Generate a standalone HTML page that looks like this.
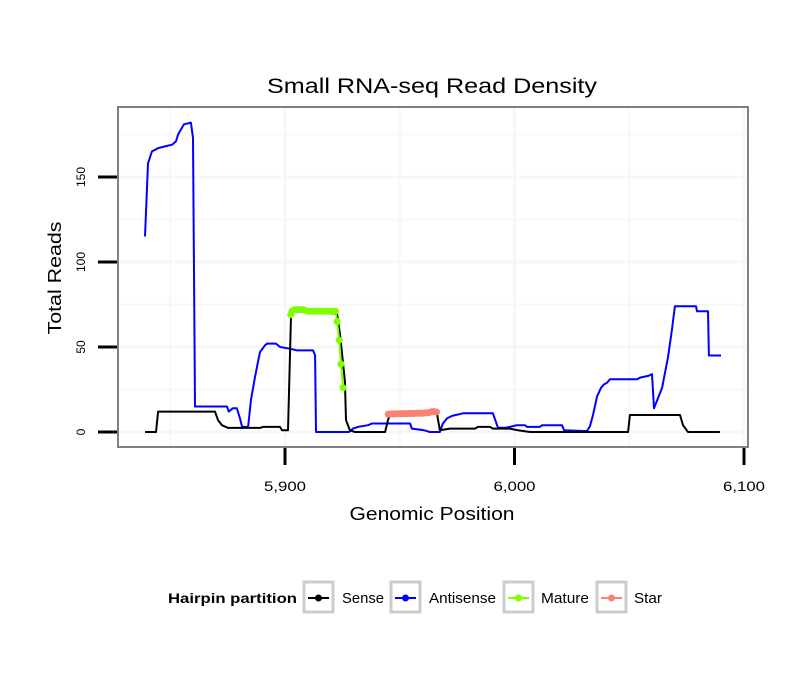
<!DOCTYPE html>
<html><head><meta charset="utf-8"><style>
body{margin:0;background:#fff}
svg{display:block;font-family:"Liberation Sans",sans-serif}
</style></head><body>
<svg id="chart" width="810" height="690">
<text x="432" y="93" text-anchor="middle" font-size="21" textLength="330" lengthAdjust="spacingAndGlyphs">Small RNA-seq Read Density</text>
<g id="grid"></g>
<g id="series"></g>
<rect x="118" y="107" width="630" height="340" fill="none" stroke="#808080" stroke-width="2"/>
<g id="axes"></g>
<text x="432" y="520" text-anchor="middle" font-size="18" textLength="165" lengthAdjust="spacingAndGlyphs">Genomic Position</text>
<text transform="translate(61,278) rotate(-90)" text-anchor="middle" font-size="18" textLength="113" lengthAdjust="spacingAndGlyphs">Total Reads</text>
<g>
<text x="168" y="603" font-size="14" font-weight="bold" textLength="129" lengthAdjust="spacingAndGlyphs">Hairpin partition</text>
<g><rect x="304" y="582" width="29" height="30" fill="#fff" stroke="#ccc" stroke-width="3"/><line x1="308" y1="598" x2="329" y2="598" stroke="#000" stroke-width="2"/><circle cx="318.5" cy="598" r="3.5" fill="#000"/><text x="342" y="603" font-size="15" textLength="42" lengthAdjust="spacingAndGlyphs">Sense</text></g>
<g><rect x="391" y="582" width="29" height="30" fill="#fff" stroke="#ccc" stroke-width="3"/><line x1="395" y1="598" x2="416" y2="598" stroke="#00f" stroke-width="2"/><circle cx="405.5" cy="598" r="3.5" fill="#00f"/><text x="429" y="603" font-size="15" textLength="67" lengthAdjust="spacingAndGlyphs">Antisense</text></g>
<g><rect x="504" y="582" width="29" height="30" fill="#fff" stroke="#ccc" stroke-width="3"/><line x1="508" y1="598" x2="529" y2="598" stroke="#7fff00" stroke-width="2"/><circle cx="518.5" cy="598" r="3.5" fill="#7fff00"/><text x="541" y="603" font-size="15" textLength="48" lengthAdjust="spacingAndGlyphs">Mature</text></g>
<g><rect x="597" y="582" width="29" height="30" fill="#fff" stroke="#ccc" stroke-width="3"/><line x1="601" y1="598" x2="622" y2="598" stroke="#fa8072" stroke-width="2"/><circle cx="611.5" cy="598" r="3.5" fill="#fa8072"/><text x="634" y="603" font-size="15" textLength="28" lengthAdjust="spacingAndGlyphs">Star</text></g>
</g>
</svg>
<script>
const xTicks=[5900,6000,6100];
const xTickLabels=["5,900","6,000","6,100"];
const xMinor=[5850,5950,6050];
const yTicks=[0,50,100,150];
const yMinor=[25,75,125,175];
const antiPos=[5839,5840.3,5842,5844.7,5847.7,5850.8,5852.5,5853.4,5854.7,5856,5859,5859.9,5860.8,5874.7,5875.5,5877.3,5879,5880.4,5881.3,5883.9,5885.2,5886.9,5888.2,5889.1,5891.3,5892.2,5896.1,5897.8,5902.2,5905.2,5912.2,5913.1,5913.5,5927.9,5929.6,5931.8,5936.2,5937.9,5954.5,5955.3,5960.6,5963.2,5967.5,5968.8,5970.6,5972.8,5977.6,5990.6,5991.9,5992.8,5995.9,5998,6001,6004.6,6005.4,6011.1,6012,6020.7,6021.6,6031.6,6032.9,6034.2,6036,6037.7,6039,6040.3,6041.6,6053.4,6054.7,6058.2,6059.9,6060.8,6064.3,6066.9,6068.6,6069.9,6079.1,6079.5,6084.3,6084.7,6090];
const antiVal=[115,158,165,167,168,169,171,175,178,181,182,173,15,15,12,14,14,8,3,3,19,32,41,47,51,52,52,50,49,48,48,45,0,0,2,3,4,5,5,2,1,0,0,5,8,9.5,11,11,6,2.5,2.5,3,4,4,3,3,4,4,1,0.5,3.5,10,21,26,28,29,31,31,32,33,34,14,26,44,60,74,74,71,71,45,45];
const sensePos=[5839,5843.8,5844.7,5869.5,5870.8,5872.5,5875.2,5889.1,5890.4,5897.8,5898.7,5901.3,5902.6,5903.5,5906.5,5915.3,5922.7,5924,5926.1,5926.6,5928.3,5930.5,5943.6,5944.9,5945.8,5966.2,5967.5,5969.7,5971.9,5982.8,5984.1,5989.3,5990.6,5998,6001.5,6006.8,6049.5,6050.3,6072.1,6073.4,6075.6,6089.5];
const senseVal=[0,0,12,12,7,4,2.4,2.4,3,3,1,1,68,70.5,71,70,69.5,57,30,7,1,0,0,7,10.5,11,1,1.5,2,2,3,3,2,2,1,0,0,10,10,4,0,0];
const maturePos=[5902.5,5903,5904,5905,5906,5907,5908,5909,5910,5911,5912,5913,5914,5915,5916,5917,5918,5919,5920,5921,5922,5922.7,5923.6,5924.4,5925.3];
const matureVal=[69,71,72,72,72,72,72,71.5,71,71,71,71,71,71,71,71,71,71,71,71,71,65,54,40,26];
const starPos=[5945,5946,5947,5948,5949,5950,5951,5952,5953,5954,5955,5956,5957,5958,5959,5960,5961,5962,5963,5964,5965,5966];
const starVal=[10.5,10.6,10.6,10.7,10.7,10.7,10.8,10.8,10.8,10.9,10.9,10.9,11,11,11,11.1,11.2,11.3,11.5,12,12,11.8];
const NS="http://www.w3.org/2000/svg";
const X=p=>285+(p-5900)*2.295;
const Y=v=>432-v*1.7;
function mk(t,a,parent){const e=document.createElementNS(NS,t);for(const k in a)e.setAttribute(k,a[k]);document.getElementById(parent).appendChild(e);return e;}
const grid='grid';
xMinor.concat(xTicks).forEach(p=>{const x=X(p);if(x>118&&x<748){const l=mk('line',{x1:x,x2:x,y1:108,y2:446,stroke:'#f7f7f7','stroke-width':xTicks.includes(p)?3:2},grid);

}});
yMinor.concat(yTicks).forEach(v=>{const y=Y(v);if(y>107&&y<447){const l=mk('line',{x1:119,x2:747,y1:y,y2:y,stroke:'#f7f7f7','stroke-width':yTicks.includes(v)?3:2},grid);

}});
xTicks.forEach((p,i)=>{const x=X(p);const t=mk('line',{x1:x,x2:x,y1:448,y2:465,stroke:'#000','stroke-width':3},'axes');


const l=mk('text',{x:x,y:491,'text-anchor':'middle','font-size':14,textLength:42,lengthAdjust:'spacingAndGlyphs'},'axes');l.textContent=xTickLabels[i];

});
yTicks.forEach(v=>{const y=Y(v);const t=mk('line',{x1:98,x2:117,y1:y,y2:y,stroke:'#000','stroke-width':3},'axes');


const l=mk('text',{transform:`translate(85,${y}) rotate(-90)`,'text-anchor':'middle','font-size':12},'axes');l.textContent=v;

});
function line(pos,val,color,name){const d=pos.map((p,i)=>(i?'L':'M')+X(p).toFixed(1)+','+Y(val[i]).toFixed(1)).join('');
const e=mk('path',{d:d,fill:'none',stroke:color,'stroke-width':2,'stroke-linejoin':'round'},'series');

}
function pts(pos,val,color,name){pos.forEach((p,i)=>{const c=mk('circle',{cx:X(p),cy:Y(val[i]),r:3.5,fill:color},'series');

});}
line(antiPos,antiVal,'#0000ff','antisense-line');
line(sensePos,senseVal,'#000000','sense-line');
line(maturePos,matureVal,'#7fff00','mature-line');
pts(maturePos,matureVal,'#7fff00','mature-point');
line(starPos,starVal,'#fa8072','star-line');
pts(starPos,starVal,'#fa8072','star-point');
</script>
</body></html>
